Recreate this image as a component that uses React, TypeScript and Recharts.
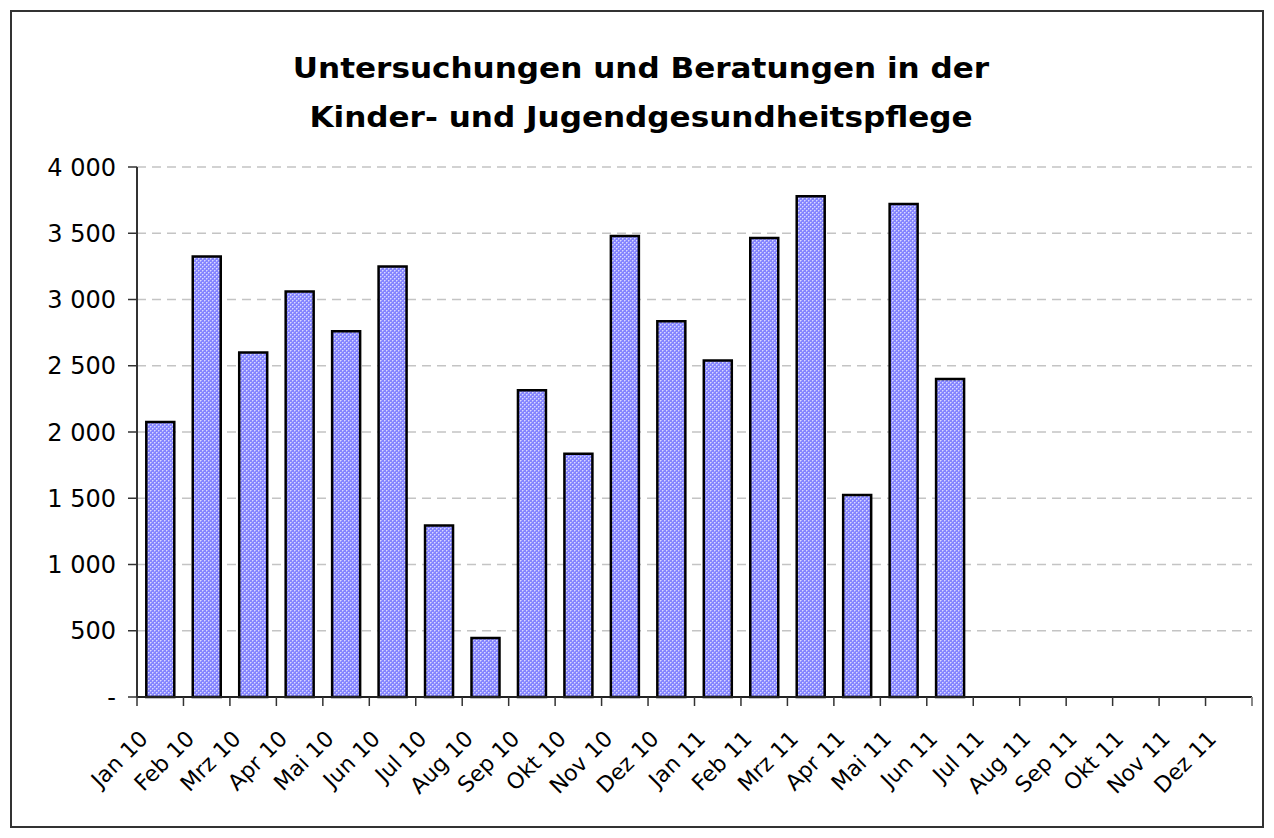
import React from 'react';
import { BarChart, Bar, XAxis, YAxis, CartesianGrid } from 'recharts';

const months = [
  'Jan 10', 'Feb 10', 'Mrz 10', 'Apr 10', 'Mai 10', 'Jun 10', 'Jul 10', 'Aug 10',
  'Sep 10', 'Okt 10', 'Nov 10', 'Dez 10', 'Jan 11', 'Feb 11', 'Mrz 11', 'Apr 11',
  'Mai 11', 'Jun 11', 'Jul 11', 'Aug 11', 'Sep 11', 'Okt 11', 'Nov 11', 'Dez 11',
];
const values: (number | null)[] = [
  2075, 3325, 2600, 3060, 2760, 3250, 1295, 445,
  2315, 1835, 3480, 2835, 2540, 3465, 3780, 1525,
  3720, 2400, null, null, null, null, null, null,
];
const yTicks = [0, 500, 1000, 1500, 2000, 2500, 3000, 3500, 4000];
const titleLines = ['Untersuchungen und Beratungen in der', 'Kinder- und Jugendgesundheitspflege'];

const data = months.map((m, i) => ({ month: m, value: values[i] }));

const fmtY = (v: number) => (v === 0 ? '-' : String(v).replace(/\B(?=(\d{3})+(?!\d))/g, ' '));

const FONT = 'DejaVu Sans, Verdana, sans-serif';

const XTick = (props: any) => {
  const { x, y, payload, index } = props;
  const half = payload && typeof payload.offset === 'number' && payload.offset > 0 ? payload.offset : 23.23;
  const isLast = index === months.length - 1;
  const ax = x - 11;
  const ay = y + 43;
  return (
    <g>
      <line x1={x - half} x2={x - half} y1={y} y2={y + 9} stroke="#333" strokeWidth={1.5} />
      {isLast && <line x1={x + half} x2={x + half} y1={y} y2={y + 9} stroke="#888" strokeWidth={2} />}
      <text
        x={ax}
        y={ay}
        transform={`rotate(-45, ${ax}, ${ay})`}
        textAnchor="end"
        fontSize={22}
        fontFamily={FONT}
        fill="#000"
      >
        {payload.value}
      </text>
    </g>
  );
};

export default function App() {
  return (
    <div style={{ position: 'relative', width: 1274, height: 838, background: '#fff' }}>
      <style>{`body{margin:0;}`}</style>
      <div
        style={{
          position: 'absolute',
          left: 10,
          top: 10,
          width: 1254,
          height: 818,
          boxSizing: 'border-box',
          border: '2px solid #333',
        }}
      />
      <div
        style={{
          position: 'absolute',
          left: 0,
          top: 44,
          width: 1282,
          textAlign: 'center',
          fontFamily: FONT,
          fontWeight: 'bold',
          fontSize: 28,
          lineHeight: '49px',
          color: '#000',
          transform: 'scaleX(1.11)',
          transformOrigin: '641px 0px',
          whiteSpace: 'nowrap',
        }}
      >
        {titleLines.map((t) => (
          <div key={t}>{t}</div>
        ))}
      </div>
      <div style={{ position: 'absolute', left: 0, top: 0 }}>
        <BarChart
          width={1274}
          height={838}
          data={data}
          margin={{ top: 167, right: 22, bottom: 41, left: 37 }}
          barCategoryGap="20%"
        >
          <defs>
            <pattern id="hatch" width="4" height="4" patternUnits="userSpaceOnUse">
              <rect x="0" y="0" width="4" height="4" fill="#8585ff" />
              <rect x="0" y="0" width="1" height="1" fill="#dadaff" />
              <rect x="2" y="2" width="1" height="1" fill="#dadaff" />
              <rect x="1" y="0" width="1" height="1" fill="#b0b0ff" />
              <rect x="0" y="1" width="1" height="1" fill="#b0b0ff" />
              <rect x="3" y="2" width="1" height="1" fill="#b0b0ff" />
              <rect x="2" y="3" width="1" height="1" fill="#b0b0ff" />
            </pattern>
          </defs>
          <CartesianGrid
            horizontal
            vertical={false}
            stroke="#c4c4c4"
            strokeWidth={1.5}
            strokeDasharray="9 6"
          />
          <XAxis
            dataKey="month"
            type="category"
            interval={0}
            height={100}
            tickSize={0}
            tickMargin={0}
            tickLine={false}
            axisLine={{ stroke: '#222', strokeWidth: 2 }}
            tick={<XTick />}
          />
          <XAxis
            xAxisId="t"
            dataKey="month"
            orientation="top"
            height={0}
            tick={false}
            tickLine={false}
            axisLine={{ stroke: '#888', strokeWidth: 2 }}
          />
          <YAxis
            type="number"
            domain={[0, 4000]}
            ticks={yTicks}
            interval={0}
            width={100}
            tickSize={9}
            tickMargin={12}
            tickFormatter={fmtY}
            tick={{ fill: '#000', fontSize: 24, fontFamily: FONT }}
            tickLine={{ stroke: '#333', strokeWidth: 1.5 }}
            axisLine={{ stroke: '#333', strokeWidth: 2 }}
          />
          <YAxis
            yAxisId="r"
            orientation="right"
            type="number"
            domain={[0, 4000]}
            width={0}
            tick={false}
            tickLine={false}
            axisLine={{ stroke: '#888', strokeWidth: 2 }}
          />
          <Bar
            dataKey="value"
            fill="url(#hatch)"
            stroke="#000"
            strokeWidth={2.5}
            isAnimationActive={false}
          />
        </BarChart>
      </div>
    </div>
  );
}
